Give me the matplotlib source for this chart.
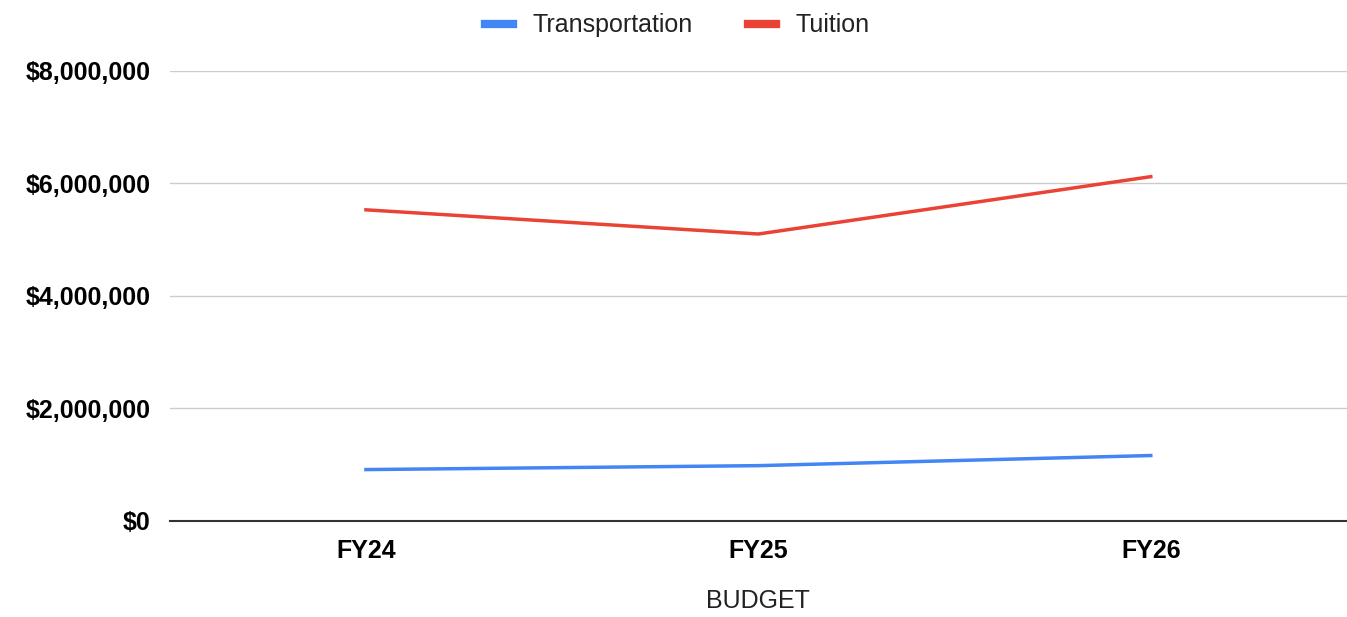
import matplotlib.pyplot as plt
from matplotlib.ticker import FuncFormatter

years = ['FY24', 'FY25', 'FY26']
transportation = [910000, 980000, 1160000]
tuition = [5530000, 5100000, 6120000]

plt.rcParams['font.family'] = ['Liberation Sans', 'DejaVu Sans']

fig = plt.figure(figsize=(13.47, 6.17), dpi=100)
ax = fig.add_axes([0.126, 0.156, 0.874, 0.729])

ax.plot(years, transportation, color='#4285F4', lw=2.5, label='Transportation')
ax.plot(years, tuition, color='#EA4335', lw=2.5, label='Tuition')

# Axes and grid
ax.set_xlim(-0.5, 2.5)
ax.set_ylim(0, 8000000)
ax.set_yticks([0, 2000000, 4000000, 6000000, 8000000])
ax.yaxis.set_major_formatter(FuncFormatter(lambda v, p: '${:,.0f}'.format(v)))
ax.grid(axis='y', color='#cccccc', lw=1)
ax.set_axisbelow(True)
for side in ['top', 'right', 'left']:
    ax.spines[side].set_visible(False)
ax.spines['bottom'].set_color('#333333')
ax.spines['bottom'].set_linewidth(1.5)
ax.tick_params(axis='x', length=0, labelsize=18, pad=13)
ax.tick_params(axis='y', length=0, labelsize=18, pad=14)
for lbl in ax.get_xticklabels() + ax.get_yticklabels():
    lbl.set_fontweight('bold')
ax.set_xlabel('BUDGET', fontsize=18, labelpad=19, color='#222222')

fig.legend(loc='upper center', bbox_to_anchor=(0.503, 1.015), ncol=2, frameon=False,
           fontsize=18, handlelength=1.1, handleheight=0.5, columnspacing=2.2,
           labelcolor='#222222')
for line in fig.legends[0].get_lines():
    line.set_linewidth(6)

fig.savefig('out.png', dpi=100)
